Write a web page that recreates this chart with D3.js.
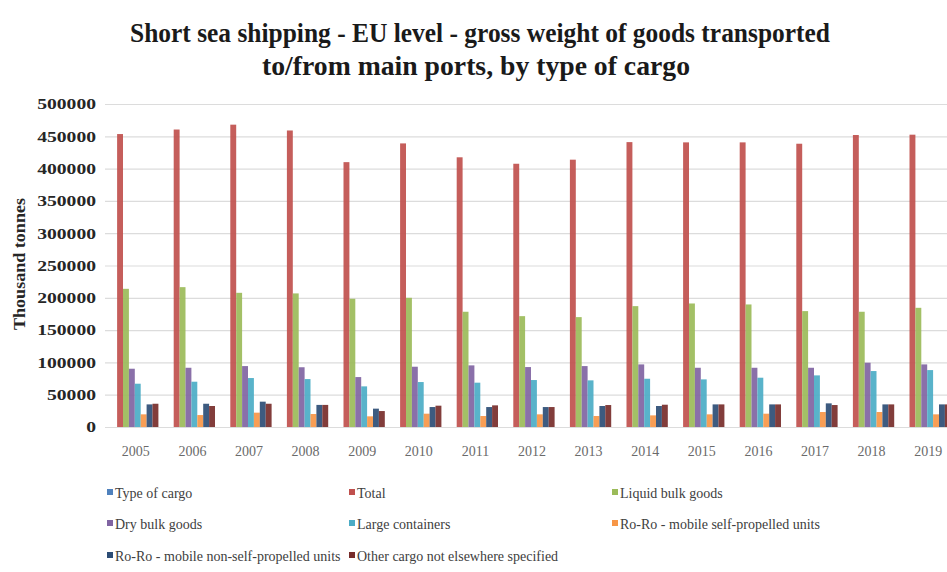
<!DOCTYPE html>
<html>
<head>
<meta charset="utf-8">
<script src="https://cdn.jsdelivr.net/npm/d3@7"></script>
<style>
  html, body { margin: 0; padding: 0; background: #fff; }
  svg { display: block; }
</style>
</head>
<body>
<svg id="chart" width="947" height="572"></svg>
<script>
const years = ["2005","2006","2007","2008","2009","2010","2011","2012","2013","2014","2015","2016","2017","2018","2019"];
const seriesNames = ["Type of cargo","Total","Liquid bulk goods","Dry bulk goods","Large containers","Ro-Ro - mobile self-propelled units","Ro-Ro - mobile non-self-propelled units","Other cargo not elsewhere specified"];
const seriesColors = ["#4F81BD","#C0504D","#9BBB59","#8064A2","#4BACC6","#F79646","#2C4D75","#772C2A"];
const typeOfCargo = [0,0,0,0,0,0,0,0,0,0,0,0,0,0,0];
const total =      [453500,460500,468000,459000,410000,439000,417500,407500,413800,441000,440600,440600,438500,452000,452500];
const liquidBulk = [213900,216500,207700,206800,198500,200000,178400,171600,170100,187100,191200,189700,179400,178400,184500];
const dryBulk =    [90200,91700,94300,92500,77300,93300,95400,92800,94300,96900,91700,91700,91700,99500,96900];
const containers = [67000,70100,75800,74200,62900,69600,68600,72700,72200,74700,73700,76300,79900,86600,88100];
const roroSelf =   [19600,18500,22200,20100,16500,20600,17000,19600,17000,18000,19600,20600,23200,23200,19600];
const roroNonSelf =[35000,36000,39200,34200,28400,30900,30900,30900,32500,32500,35000,35000,36600,35000,35000];
const otherCargo = [36000,32500,36000,34200,24700,33000,33500,30900,34000,34500,35000,35000,34000,35000,35000];
const yTicks = [0,50000,100000,150000,200000,250000,300000,350000,400000,450000,500000];

const seriesValues = [typeOfCargo,total,liquidBulk,dryBulk,containers,roroSelf,roroNonSelf,otherCargo];

const svg = d3.select("#chart");
const W = 947, H = 572;
const serif = "'Liberation Serif', 'Times New Roman', serif";

const x0 = d3.scaleBand().domain(years).range([106.5, 955.5]).paddingInner(0.166).paddingOuter(0.083);
const x1 = d3.scaleBand().domain(d3.range(seriesNames.length)).range([0, x0.bandwidth()]);
const y = d3.scaleLinear().domain([0, 500000]).range([427, 104]);

// gridlines
svg.append("g").selectAll("line").data(yTicks).join("line")
  .attr("x1", 105).attr("x2", W)
  .attr("y1", d => y(d) + 0.5).attr("y2", d => y(d) + 0.5)
  .attr("stroke", "#dcdcdc").attr("stroke-width", 1.2);

// y axis labels
const yAxis = d3.axisLeft(y).tickValues(yTicks).tickSize(0).tickPadding(0).tickFormat(d3.format("d"));
const gy = svg.append("g").attr("transform", "translate(96,0)").call(yAxis);
gy.select(".domain").remove();
gy.selectAll("text")
  .attr("font-family", serif)
  .attr("font-size", 15).attr("font-weight", "bold").attr("fill", "#262626")
  .attr("textLength", d => String(d).length * 9.8)
  .attr("lengthAdjust", "spacingAndGlyphs");

// x axis labels
const xAxis = d3.axisBottom(x0).tickSize(0).tickPadding(0);
const gx = svg.append("g").attr("transform", "translate(1,446)").call(xAxis);
gx.select(".domain").remove();
gx.selectAll("text")
  .attr("font-family", serif)
  .attr("font-size", 14).attr("fill", "#6a6a6a");

// bars
const groups = svg.append("g").selectAll("g").data(years).join("g")
  .attr("transform", d => `translate(${x0(d)},0)`);
groups.selectAll("rect")
  .data((yr, i) => seriesValues.map((vals, s) => ({s, v: vals[i]})))
  .join("rect")
  .attr("x", d => x1(d.s))
  .attr("width", x1.bandwidth())
  .attr("y", d => y(d.v))
  .attr("height", d => y(0) - y(d.v))
  .attr("fill", d => seriesColors[d.s])
  .attr("opacity", 0.92);

// title
const title = svg.append("text")
  .attr("text-anchor", "middle")
  .attr("font-family", serif)
  .attr("font-size", 27).attr("font-weight", "bold").attr("fill", "#1a1a1a");
title.append("tspan").attr("x", 480).attr("y", 42)
  .attr("textLength", 700).attr("lengthAdjust", "spacingAndGlyphs")
  .text("Short sea shipping - EU level - gross weight of goods transported");
title.append("tspan").attr("x", 476).attr("y", 75)
  .attr("textLength", 428).attr("lengthAdjust", "spacingAndGlyphs")
  .text("to/from main ports, by type of cargo");

// y axis title
svg.append("text")
  .attr("transform", "translate(25,264) rotate(-90)")
  .attr("text-anchor", "middle")
  .attr("font-family", serif)
  .attr("font-size", 16).attr("font-weight", "bold").attr("fill", "#262626")
  .attr("textLength", 132).attr("lengthAdjust", "spacingAndGlyphs")
  .text("Thousand tonnes");

// legend
const legX = [107, 349, 612];
const legY = [494, 525, 557];
const leg = svg.append("g").selectAll("g").data(seriesNames).join("g")
  .attr("transform", (d, i) => `translate(${legX[i % 3]},${legY[Math.floor(i / 3)]})`);
leg.append("rect").attr("x", 0).attr("y", -5).attr("width", 6).attr("height", 6)
  .attr("fill", (d, i) => seriesColors[i]);
leg.append("text").attr("x", 8).attr("y", 0).attr("dy", "0.32em")
  .attr("font-family", serif)
  .attr("font-size", 14).attr("fill", "#404040")
  .text(d => d);
</script>
</body>
</html>
